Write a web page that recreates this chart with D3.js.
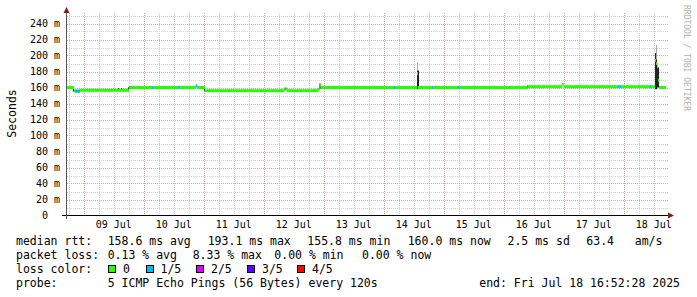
<!DOCTYPE html>
<html>
<head>
<meta charset="utf-8">
<script src="https://cdn.jsdelivr.net/npm/d3@7"></script>
<style>
  body { margin: 0; background: #fff; }
  text { font-family: "DejaVu Sans Mono", monospace; white-space: pre; }
</style>
</head>
<body>
<div id="chart"></div>
<script>
// median rtt in ms, one value per run of steps (starts at the given time)
var medianTimes = ["2025-07-08 16:52", "2025-07-08 20:05", "2025-07-08 22:29", "2025-07-09 18:05",
  "2025-07-10 20:53", "2025-07-10 21:17", "2025-07-11 00:29", "2025-07-12 08:05", "2025-07-12 09:17",
  "2025-07-12 21:41", "2025-07-12 22:17", "2025-07-12 22:53", "2025-07-14 13:17", "2025-07-14 13:41",
  "2025-07-16 09:17", "2025-07-16 23:17", "2025-07-16 23:53", "2025-07-18 12:29", "2025-07-18 12:53",
  "2025-07-18 13:17", "2025-07-18 13:41", "2025-07-18 14:05"];
var medianValues = [160, 155.5, 156.5, 160, 162, 160, 156, 158, 156, 157.5, 163, 160, 177.5, 160,
  161, 164, 161, 194, 190, 186, 169, 160];

// steps with packet loss (1 = 1/5 lost)
var lossTimes = ["2025-07-08 20:29", "2025-07-08 20:53", "2025-07-08 21:17", "2025-07-08 21:41",
  "2025-07-08 22:05", "2025-07-09 18:05", "2025-07-10 03:17", "2025-07-10 13:41", "2025-07-10 20:53",
  "2025-07-12 08:29", "2025-07-14 04:05", "2025-07-14 19:17", "2025-07-15 05:41", "2025-07-16 09:17",
  "2025-07-17 21:41", "2025-07-17 22:29", "2025-07-18 10:29"];
var lossLevels = [1, 1, 1, 1, 1, 1, 1, 1, 1, 1, 1, 1, 1, 1, 1, 1, 1];

// smoke: low ping, top of dark band, highest ping (ms)
var smokeTimes = ["2025-07-08 19:41", "2025-07-09 13:41", "2025-07-09 14:53", "2025-07-09 17:41",
  "2025-07-11 00:05", "2025-07-12 22:17", "2025-07-14 12:53", "2025-07-14 13:17", "2025-07-14 13:41",
  "2025-07-18 12:29", "2025-07-18 12:53", "2025-07-18 13:17", "2025-07-18 13:41"];
var smokeLow  = [155, 156, 156, 156, 156, 158, 158, 158, 158, 158, 158, 160, 160];
var smokeDark = [160, 159, 159, 160, 160, 165, 161, 181, 181, 203, 195, 185, 185];
var smokeHigh = [160, 159, 159, 160, 160, 165, 161, 191, 181, 203, 213, 185, 185];

var yTicks = [0, 20, 40, 60, 80, 100, 120, 140, 160, 180, 200, 220, 240];
var lossNames = ["0", "1/5", "2/5", "3/5", "4/5"];
var lossColors = ["#26ff00", "#00b8ff", "#dd00ff", "#5e00ff", "#ff0000"];

var parseTime = d3.timeParse("%Y-%m-%d %H:%M");
var startTime = new Date(2025, 6, 8, 16, 52, 28);
var endTime = new Date(2025, 6, 18, 16, 52, 28);
var stepMs = 24 * 60 * 1000;

var width = 697, height = 297;
var svg = d3.select("#chart").append("svg")
  .attr("width", width).attr("height", height);

var x_scale = d3.scaleTime().domain([startTime, endTime]).range([66, 666]);
var y_scale = d3.scaleLinear().domain([0, 250]).range([215.5, 15.5]);

// grid
var grid = svg.append("g").attr("shape-rendering", "crispEdges");
grid.selectAll("line.hmin")
  .data(d3.range(10, 251, 10).filter(function(d) { return d % 20 != 0; }))
  .enter().append("line")
  .attr("x1", 67).attr("x2", 668)
  .attr("y1", function(d) { return Math.round(y_scale(d)) + 0.5; })
  .attr("y2", function(d) { return Math.round(y_scale(d)) + 0.5; })
  .attr("stroke", "#cfcfcf").attr("stroke-dasharray", "1,1");
grid.selectAll("line.vmin")
  .data(d3.timeHour.every(6).range(startTime, endTime).filter(function(d) { return d.getHours() != 0; }))
  .enter().append("line")
  .attr("y1", 13).attr("y2", 215)
  .attr("x1", function(d) { return Math.round(x_scale(d)) + 0.5; })
  .attr("x2", function(d) { return Math.round(x_scale(d)) + 0.5; })
  .attr("stroke", "#cfcfcf").attr("stroke-dasharray", "1,1");
grid.selectAll("line.hmaj")
  .data(yTicks.slice(1))
  .enter().append("line")
  .attr("x1", 67).attr("x2", 668)
  .attr("y1", function(d) { return Math.round(y_scale(d)) + 0.5; })
  .attr("y2", function(d) { return Math.round(y_scale(d)) + 0.5; })
  .attr("stroke", "#dba3a3").attr("stroke-dasharray", "1,1");
grid.selectAll("line.vmaj")
  .data(d3.timeDay.range(startTime, endTime))
  .enter().append("line")
  .attr("y1", 13).attr("y2", 215)
  .attr("x1", function(d) { return Math.round(x_scale(d)) + 0.5; })
  .attr("x2", function(d) { return Math.round(x_scale(d)) + 0.5; })
  .attr("stroke", "#dba3a3").attr("stroke-dasharray", "1,1");

// smoke
var smoke = smokeTimes.map(function(t, i) {
  return {t: parseTime(t), lo: smokeLow[i], dark: smokeDark[i], hi: smokeHigh[i]};
});
var plot = svg.append("g");
plot.selectAll("rect.smokeL").data(smoke).enter().append("rect")
  .attr("x", function(d) { return x_scale(d.t); })
  .attr("width", function(d) { return x_scale(new Date(+d.t + stepMs)) - x_scale(d.t); })
  .attr("y", function(d) { return y_scale(d.hi); })
  .attr("height", function(d) { return y_scale(d.lo) - y_scale(d.hi); })
  .attr("fill", "#a8a8a8");
plot.selectAll("rect.smokeD").data(smoke).enter().append("rect")
  .attr("x", function(d) { return x_scale(d.t); })
  .attr("width", function(d) { return x_scale(new Date(+d.t + stepMs)) - x_scale(d.t); })
  .attr("y", function(d) { return y_scale(d.dark); })
  .attr("height", function(d) { return y_scale(d.lo) - y_scale(d.dark); })
  .attr("fill", "#222");

// median bands
var med = medianTimes.map(function(t, i) {
  return {t: parseTime(t), v: medianValues[i],
    t2: i < medianTimes.length - 1 ? parseTime(medianTimes[i + 1]) : endTime};
});
plot.selectAll("rect.med").data(med).enter().append("rect")
  .attr("x", function(d) { return x_scale(d.t); })
  .attr("width", function(d) { return x_scale(d.t2) - x_scale(d.t); })
  .attr("y", function(d) { return y_scale(d.v) - 1.5; })
  .attr("height", 3)
  .attr("fill", lossColors[0]);

var bis = d3.bisector(function(d) { return d.t; }).right;
var loss = lossTimes.map(function(t, i) {
  var tt = parseTime(t);
  return {t: tt, level: lossLevels[i], v: med[Math.max(0, bis(med, tt) - 1)].v};
});
plot.selectAll("rect.loss").data(loss).enter().append("rect")
  .attr("x", function(d) { return x_scale(d.t); })
  .attr("width", function(d) { return x_scale(new Date(+d.t + stepMs)) - x_scale(d.t); })
  .attr("y", function(d) { return y_scale(d.v) - 1.5; })
  .attr("height", 3)
  .attr("fill", function(d) { return lossColors[d.level]; });

// axes
svg.append("line").attr("x1", 62).attr("x2", 668).attr("y1", 215.5).attr("y2", 215.5)
  .attr("stroke", "#000").attr("shape-rendering", "crispEdges");
svg.append("line").attr("x1", 66.5).attr("x2", 66.5).attr("y1", 219).attr("y2", 12)
  .attr("stroke", "#555").attr("shape-rendering", "crispEdges");
svg.append("path").attr("d", "M668,212.5L674,215.5L668,218.5Z").attr("fill", "#7f1f1f");
svg.append("path").attr("d", "M63.5,13L66.5,7L69.5,13Z").attr("fill", "#7f1f1f");

svg.selectAll("text.ytick").data(yTicks).enter().append("text")
  .attr("x", function(d) { return d == 0 ? 48 : 60; })
  .attr("y", function(d) { return y_scale(d) + 3.5; })
  .attr("text-anchor", "end")
  .attr("font-size", "10px").attr("fill", "#000")
  .text(function(d) { return d == 0 ? "0" : d + " m"; });

svg.selectAll("text.xtick")
  .data(d3.timeDay.range(startTime, endTime).map(function(d) { return d3.timeHour.offset(d, 12); }))
  .enter().append("text")
  .attr("x", function(d) { return x_scale(d); })
  .attr("y", 227.5)
  .attr("text-anchor", "middle")
  .attr("font-size", "10px")
  .text(d3.timeFormat("%d %b"));

svg.append("text").attr("transform", "translate(16,113.5) rotate(-90)")
  .attr("text-anchor", "middle").attr("font-size", "11.5px").text("Seconds");

svg.append("text").attr("transform", "translate(684,5) rotate(90)")
  .attr("font-size", "8px").attr("fill", "#b0b0b0").text("RRDTOOL / TOBI OETIKER");

// legend
var legendRows = [
  {y: 245.3, items: [[16, "median rtt:"], [107.7, "158.6 ms avg"], [207.7, "193.1 ms max"],
    [307.3, "155.8 ms min"], [407.7, "160.0 ms now"], [507.5, "2.5 ms sd"], [586.3, "63.4   am/s"]]},
  {y: 259, items: [[16, "packet loss:"], [107.7, "0.13 % avg"], [192.7, "8.33 % max"],
    [274.3, "0.00 % min"], [362, "0.00 % now"]]},
  {y: 272.8, items: [[16, "loss color:"]]},
  {y: 286.5, items: [[16, "probe:"], [107.7, "5 ICMP Echo Pings (56 Bytes) every 120s"]]}
];
legendRows.forEach(function(row) {
  svg.selectAll(null).data(row.items).enter().append("text")
    .attr("x", function(d) { return d[0]; }).attr("y", row.y)
    .attr("font-size", "11.5px").attr("fill", "#000")
    .text(function(d) { return d[1]; });
});
svg.append("text").attr("x", 680).attr("y", 286.5).attr("text-anchor", "end")
  .attr("font-size", "11.5px").text("end: Fri Jul 18 16:52:28 2025");

var boxX = [108.5, 146, 196.5, 247.5, 297.5];
lossNames.forEach(function(n, i) {
  svg.append("rect").attr("x", boxX[i]).attr("y", 265.5).attr("width", 7).attr("height", 7)
    .attr("fill", lossColors[i]).attr("stroke", "#000").attr("shape-rendering", "crispEdges");
  svg.append("text").attr("x", boxX[i] + 14.5).attr("y", 272.8)
    .attr("font-size", "11.5px").text(n);
});
</script>
</body>
</html>
